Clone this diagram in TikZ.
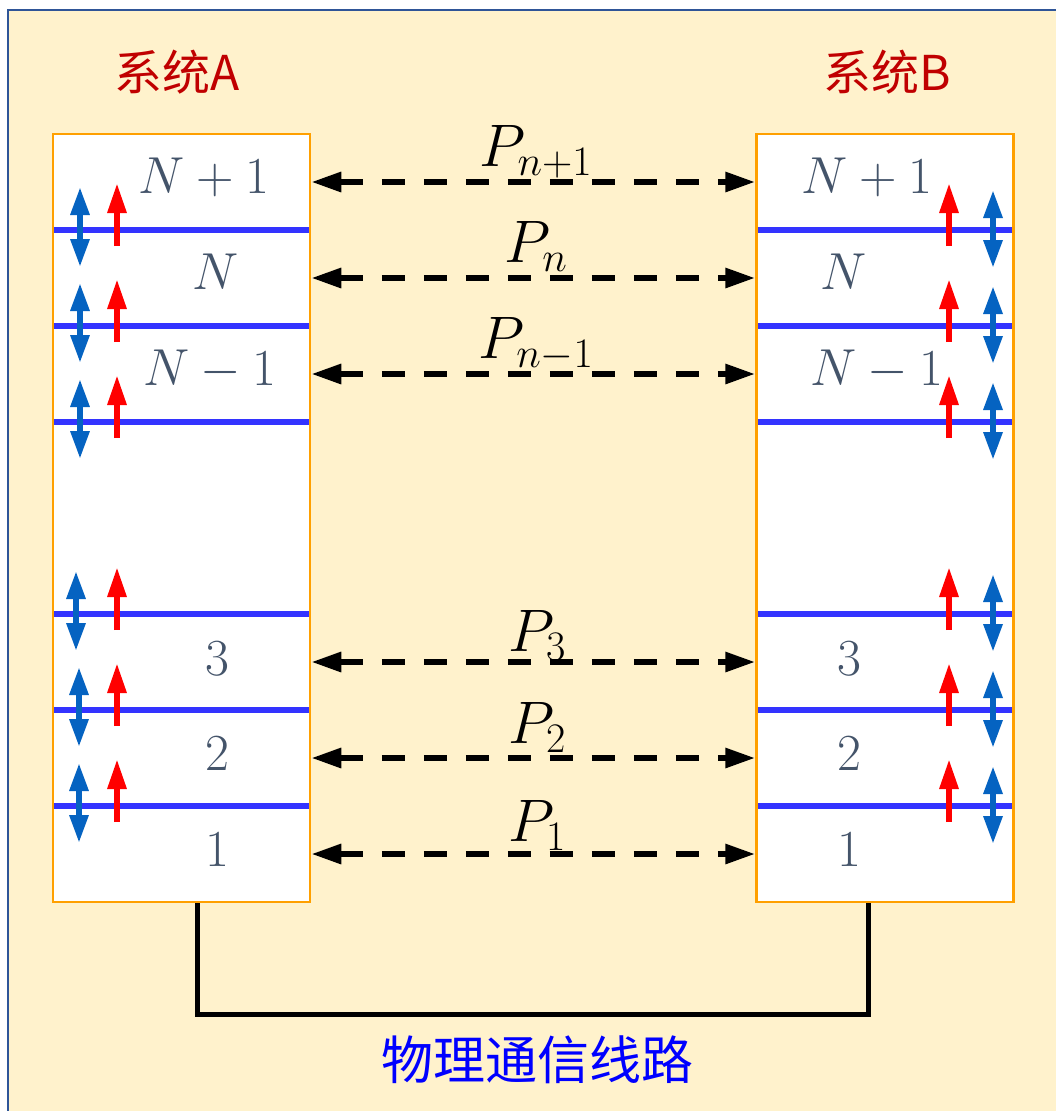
\documentclass[tikz,border=0pt]{standalone}
\usepackage{fix-cm}
\usepackage{fontspec}
\newfontfamily\cjk{Noto Sans CJK SC}
\usetikzlibrary{arrows.meta}
\definecolor{cream}{HTML}{FFF2CC}
\definecolor{frameblue}{HTML}{2F5597}
\definecolor{boxorange}{HTML}{FFA000}
\definecolor{layerblue}{HTML}{3333FF}
\definecolor{arrblue}{HTML}{0563C1}
\definecolor{slate}{HTML}{44546A}
\definecolor{titlered}{HTML}{C00000}
\tikzset{
  sysbox/.style={draw=boxorange, line width=2.5pt, fill=white, minimum width=257pt, minimum height=768pt, inner sep=0pt},
  layerline/.style={layerblue, line width=5.5pt},
  lvl/.style={text=slate, anchor=base, inner sep=0pt, font=\fontsize{52}{60}\selectfont},
  plabel/.style={anchor=base, inner sep=0pt, font=\fontsize{60}{72}\selectfont},
  peer/.style={dashed, dash pattern=on 23pt off 19pt, line width=6pt, {Triangle[length=30pt,width=19pt]}-{Triangle[length=30pt,width=19pt]}},
  uparr/.style={red, line width=6pt, -{Triangle[length=30pt,width=18pt]}},
  bothArr/.style={arrblue, line width=6pt, {Triangle[length=28pt,width=18pt]}-{Triangle[length=28pt,width=18pt]}},
  title/.style={text=titlered, inner sep=0pt, font=\cjk\fontsize{48}{56}\selectfont},
}
\begin{document}
\begin{tikzpicture}[x=1pt,y=-1pt]
\useasboundingbox (0,0) rectangle (1056,1111);
\fill[white] (0,0) rectangle (1056,1111);
\draw[frameblue, line width=2.5pt, fill=cream] (8,10) rectangle (1080,1130);

% titles
\node[title] (tA) at (177,72) {系统A};
\node[title] (tB) at (887,72) {系统B};

% boxes
\node[sysbox] (boxA) at (181.5,518) {};
\node[sysbox] (boxB) at (885,518) {};

% layer lines
\foreach \y in {230,326,422,614,710,806}{
  \draw[layerline] (54,\y) -- (309,\y);
  \draw[layerline] (758,\y) -- (1012,\y);
}

% level labels A
\node[lvl] (a6) at (204,193) {$N+1$};
\node[lvl] (a5) at (216,289) {$N$};
\node[lvl] (a4) at (210,385) {$N-1$};
\node[lvl] (a3) at (217,675) {$3$};
\node[lvl] (a2) at (217,770) {$2$};
\node[lvl] (a1) at (217,866) {$1$};
% level labels B
\node[lvl] (b6) at (867,193) {$N+1$};
\node[lvl] (b5) at (844,289) {$N$};
\node[lvl] (b4) at (877,385) {$N-1$};
\node[lvl] (b3) at (849,675) {$3$};
\node[lvl] (b2) at (849,770) {$2$};
\node[lvl] (b1) at (849,866) {$1$};

% small arrows at each layer boundary
\foreach \y/\xa in {230/80,326/80,422/80,614/76,710/79,806/79}{
  \draw[bothArr] (\xa,\y-43) -- (\xa,\y+37);
  \draw[uparr] (117,\y+16) -- (117,\y-47);
  \draw[bothArr] (993,\y-40) -- (993,\y+38);
  \draw[uparr] (949,\y+16) -- (949,\y-47);
}

% peer protocol arrows
\foreach \n/\y in {6/182,5/278,4/374,3/662,2/758,1/854}{
  \coordinate (pa\n) at (boxA.east |- 0,\y);
  \coordinate (pb\n) at (boxB.west |- 0,\y);
  \draw[peer] (pa\n) -- (pb\n);
}
\node[plabel] (p6) at (536,166) {$P_{n+1}$};
\node[plabel] (p5) at (536,262) {$P_{n}$};
\node[plabel] (p4) at (536,358) {$P_{n-1}$};
\node[plabel] (p3) at (537,651) {$P_{3}$};
\node[plabel] (p2) at (537,743) {$P_{2}$};
\node[plabel] (p1) at (537,841) {$P_{1}$};

% physical link
\coordinate (la) at (boxA.south -| 197,0);
\coordinate (lb) at (boxB.south -| 868,0);
\coordinate (lc) at (197,1014);
\coordinate (ld) at (868,1014);
\draw[line width=5pt, line join=miter] (la) -- (lc) -- (ld) -- (lb);
\node[text=blue, inner sep=0pt, font=\cjk\fontsize{52}{60}\selectfont] (phys) at (537,1060) {物理通信线路};
\end{tikzpicture}
\end{document}
